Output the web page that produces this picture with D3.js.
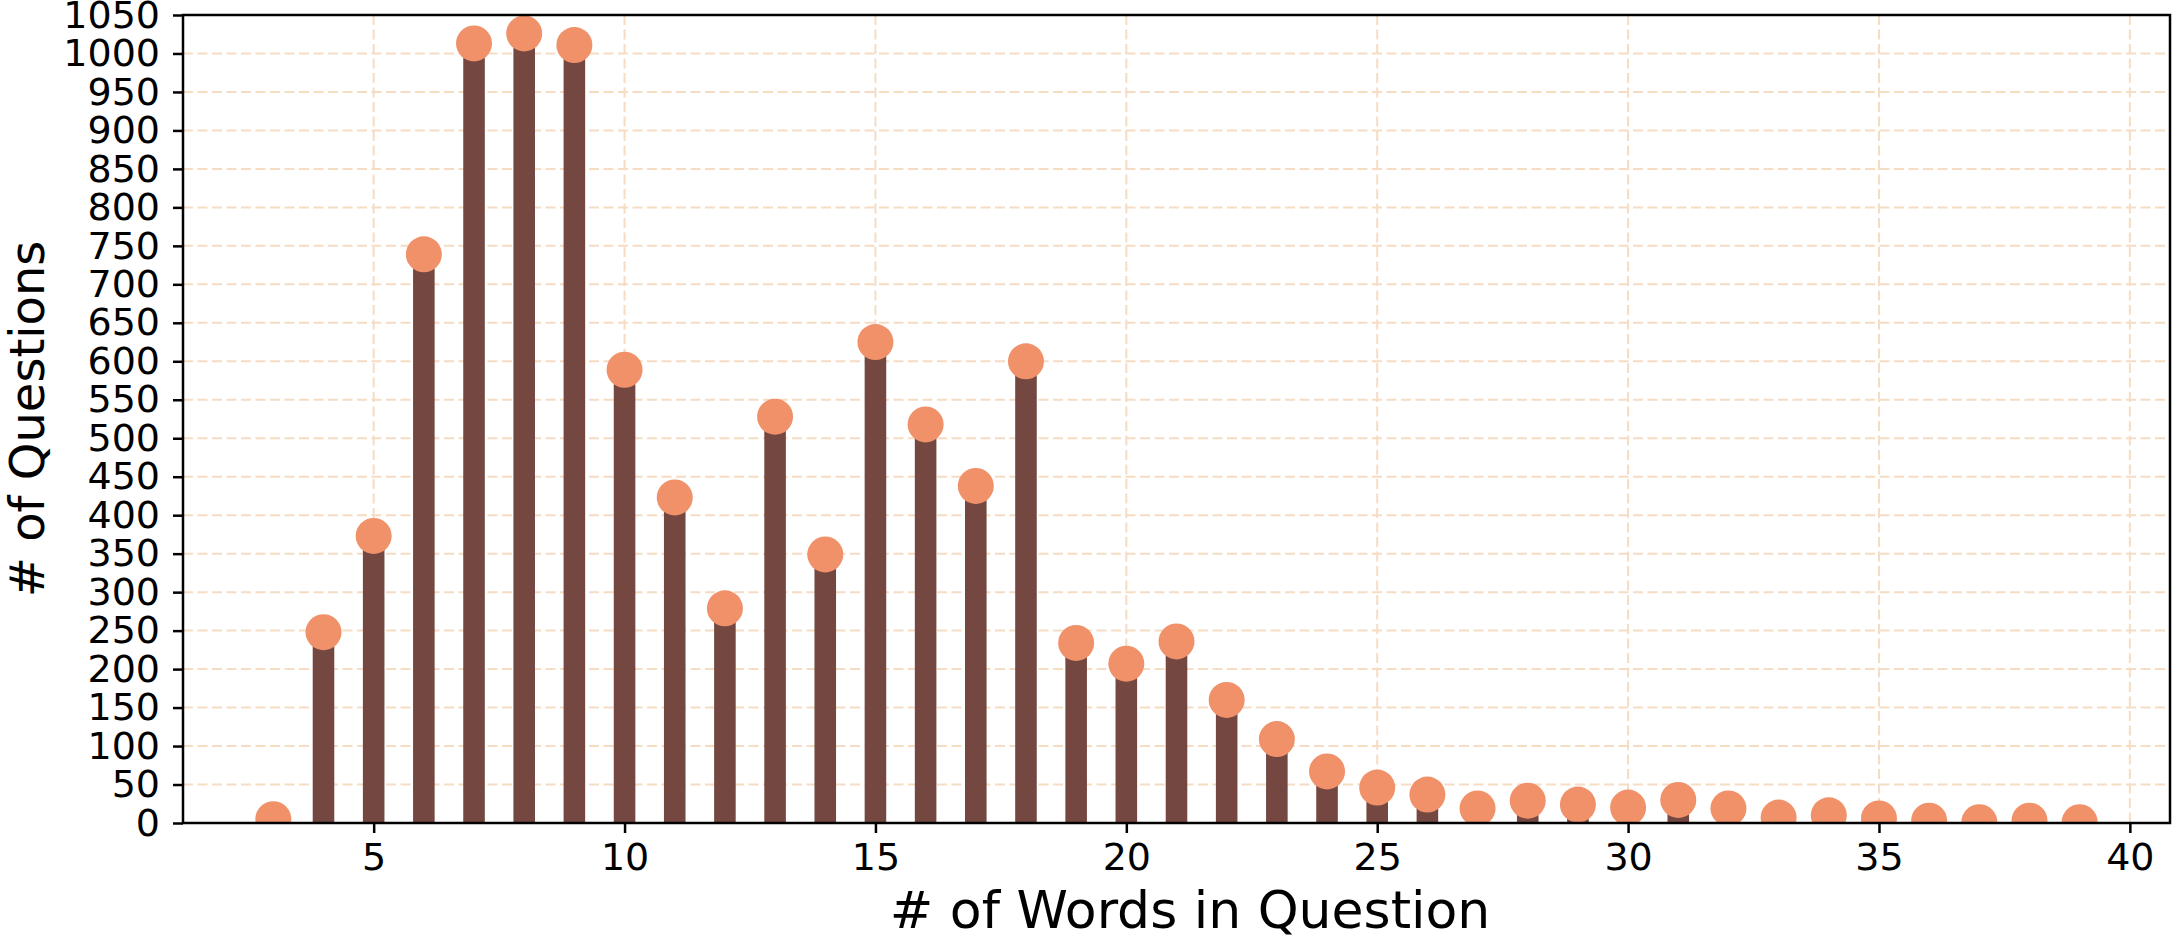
<!DOCTYPE html>
<html>
<head>
<meta charset="utf-8">
<script src="https://cdn.jsdelivr.net/npm/d3@7"></script>
<style>
  body { margin: 0; background: #fff; }
  text { font-family: "DejaVu Sans", sans-serif; }
</style>
</head>
<body>
<script>
// words per question (x) and how many questions have that length (y)
var wordCounts = d3.range(3, 40);
var questionCounts = [5, 248, 373, 739, 1013, 1026, 1011, 589, 423, 279,
                      528, 349, 625, 518, 438, 600, 234, 207, 236, 160,
                      109, 67, 46, 37, 19, 29, 24, 20, 30, 19,
                      7, 10, 6, 3, 1, 3, 1];
var xTicks = [5, 10, 15, 20, 25, 30, 35, 40];
var yTicks = d3.range(0, 1051, 50);

var data = wordCounts.map(function(w, i) { return {words: w, count: questionCounts[i]}; });

var W = 2174, H = 935;
var margin = {top: 15, right: 4, bottom: 112, left: 183},
    width = W - margin.left - margin.right,
    height = H - margin.top - margin.bottom;

var svg = d3.select("body").append("svg")
    .attr("width", W)
    .attr("height", H);

var g = svg.append("g")
    .attr("transform", "translate(" + margin.left + "," + margin.top + ")");

var x = d3.scaleLinear().domain([1.2, 40.8]).range([0, width]);
var y = d3.scaleLinear().domain([0, 1050]).range([height, 0]);

svg.append("defs").append("clipPath").attr("id", "plot")
  .append("rect").attr("width", width).attr("height", height);

// dashed grid, behind everything
var gridColor = "#f5dcc3";
g.append("g").selectAll("line").data(yTicks).enter().append("line")
    .attr("x1", 0).attr("x2", width)
    .attr("y1", function(d) { return y(d); })
    .attr("y2", function(d) { return y(d); })
    .attr("stroke", gridColor).attr("stroke-width", 2)
    .attr("stroke-dasharray", "10,4.5");
g.append("g").selectAll("line").data(xTicks).enter().append("line")
    .attr("y1", 0).attr("y2", height)
    .attr("x1", function(d) { return x(d); })
    .attr("x2", function(d) { return x(d); })
    .attr("stroke", gridColor).attr("stroke-width", 2)
    .attr("stroke-dasharray", "10,4.5");

var barW = x(0.43) - x(0);
var marks = g.append("g").attr("clip-path", "url(#plot)");

// stems
marks.selectAll(".bar").data(data).enter().append("rect")
    .attr("class", "bar")
    .attr("x", function(d) { return x(d.words) - barW / 2; })
    .attr("width", barW)
    .attr("y", function(d) { return y(d.count); })
    .attr("height", function(d) { return height - y(d.count); })
    .attr("fill", "#744840");

// heads
marks.selectAll(".dot").data(data).enter().append("circle")
    .attr("class", "dot")
    .attr("cx", function(d) { return x(d.words); })
    .attr("cy", function(d) { return y(d.count); })
    .attr("r", 18)
    .attr("fill", "#f0916a");

// axes
var xAxis = d3.axisBottom(x).tickValues(xTicks).tickSize(10).tickPadding(10).tickFormat(d3.format("d"));
var yAxis = d3.axisLeft(y).tickValues(yTicks).tickSize(10).tickPadding(13).tickFormat(d3.format("d"));

var gx = g.append("g")
    .attr("transform", "translate(0," + height + ")")
    .call(xAxis);
var gy = g.append("g").call(yAxis);

[gx, gy].forEach(function(a) {
  a.select(".domain").remove();
  a.selectAll(".tick line").attr("stroke", "#000").attr("stroke-width", 2.5);
  a.selectAll(".tick text").attr("fill", "#000").style("font-size", "38px");
});

// frame
g.append("rect")
    .attr("width", width).attr("height", height)
    .attr("fill", "none").attr("stroke", "#000").attr("stroke-width", 2.5);

svg.append("text")
    .attr("x", 1190)
    .attr("y", 928)
    .attr("text-anchor", "middle")
    .style("font-size", "52px")
    .text("# of Words in Question");

svg.append("text")
    .attr("transform", "translate(44," + (margin.top + height / 2) + ") rotate(-90)")
    .attr("text-anchor", "middle")
    .style("font-size", "48px")
    .text("# of Questions");
</script>
</body>
</html>
